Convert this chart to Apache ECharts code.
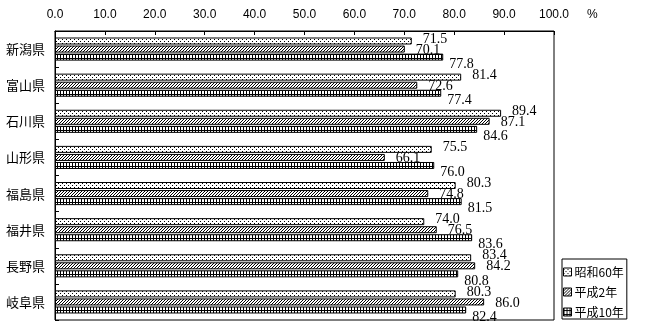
<!DOCTYPE html>
<html>
<head>
<meta charset="utf-8">
<script src="https://cdn.jsdelivr.net/npm/echarts@6/dist/echarts.min.js"></script>
<style>
  html, body { margin: 0; padding: 0; background: #fff; }
  #chart { width: 650px; height: 330px; }
</style>
</head>
<body>
<div id="chart"></div>
<script>
// Prefectures (top to bottom) and the three survey years
const prefectures = ['新潟県', '富山県', '石川県', '山形県', '福島県', '福井県', '長野県', '岐阜県'];
const seriesNames = ['昭和60年', '平成2年', '平成10年'];
const showa60 = [71.5, 81.4, 89.4, 75.5, 80.3, 74.0, 83.4, 80.3];
const heisei2 = [70.1, 72.6, 87.1, 66.1, 74.8, 76.5, 84.2, 86.0];
const heisei10 = [77.8, 77.4, 84.6, 76.0, 81.5, 83.6, 80.8, 82.4];
const axisTicks = [0, 10, 20, 30, 40, 50, 60, 70, 80, 90, 100];

// Small monochrome fill tiles: dots, diagonal hatch, grid
function tile(w, h, pixels) {
  const c = document.createElement('canvas');
  c.width = w; c.height = h;
  const ctx = c.getContext('2d');
  ctx.fillStyle = '#fff';
  ctx.fillRect(0, 0, w, h);
  ctx.fillStyle = '#000';
  pixels.forEach(p => ctx.fillRect(p[0], p[1], 1, 1));
  return { image: c, repeat: 'repeat' };
}
const dotFill = tile(4, 4, [[0, 1], [2, 3]]);
const hatchFill = tile(3, 3, [[2, 0], [1, 1], [0, 2]]);
const gridFill = tile(3, 4, [[0, 0], [0, 1], [0, 2], [0, 3], [1, 2], [2, 2]]);

const fills = [dotFill, hatchFill, gridFill];
const values = [showa60, heisei2, heisei10];
const labelOffsets = [[8, -2], [8, 1], [3, 7]];
const layerOrder = [4, 3, 2];

const numFont = '"Liberation Serif", "DejaVu Serif", serif';
const jpFont = '"Noto Sans CJK JP", sans-serif';

const chart = echarts.init(document.getElementById('chart'), null, { renderer: 'canvas' });
chart.setOption({
  animation: false,
  backgroundColor: '#fff',
  grid: {
    left: 55, right: 96, top: 31, bottom: 10,
    show: true, borderColor: '#000', borderWidth: 1, backgroundColor: 'transparent'
  },
  legend: {
    orient: 'vertical',
    left: 562, top: 259,
    padding: [7, 3, 1, 1],
    itemGap: 8,
    itemWidth: 8, itemHeight: 8,
    icon: 'rect',
    itemStyle: { borderColor: '#000', borderWidth: 1 },
    borderColor: '#000', borderWidth: 1, borderRadius: 0,
    backgroundColor: '#fff',
    textStyle: { fontFamily: jpFont, fontSize: 12, color: '#000', padding: [0, 0, 0, -2] },
    data: seriesNames
  },
  xAxis: {
    type: 'value',
    position: 'top',
    min: axisTicks[0],
    max: axisTicks[axisTicks.length - 1],
    interval: axisTicks[1] - axisTicks[0],
    axisLine: { show: true, lineStyle: { color: '#000', width: 1 } },
    axisTick: { show: true, inside: true, length: 4, lineStyle: { color: '#000' } },
    splitLine: { show: false },
    axisLabel: {
      margin: 10,
      color: '#000',
      fontFamily: '"Liberation Sans", sans-serif',
      fontSize: 12,
      formatter: v => v.toFixed(1)
    }
  },
  yAxis: {
    type: 'category',
    inverse: true,
    data: prefectures,
    axisLine: { show: true, lineStyle: { color: '#000', width: 1 } },
    axisTick: { show: true, inside: true, length: 4, lineStyle: { color: '#000' } },
    axisLabel: { margin: 10, color: '#000', fontFamily: jpFont, fontSize: 13 }
  },
  graphic: [{
    type: 'text',
    left: 587, top: 9,
    style: { text: '%', fill: '#000', font: '12px "Liberation Sans", sans-serif' }
  }],
  series: seriesNames.map((name, i) => ({
    name: name,
    type: 'bar',
    z: layerOrder[i],
    data: values[i],
    barWidth: 7,
    barGap: '15%',
    itemStyle: { color: fills[i], borderColor: '#000', borderWidth: 1 },
    label: {
      show: true,
      position: 'right',
      distance: 3,
      offset: labelOffsets[i],
      color: '#000',
      fontFamily: numFont,
      fontSize: 14,
      formatter: p => p.value.toFixed(1)
    }
  }))
});
</script>
</body>
</html>
